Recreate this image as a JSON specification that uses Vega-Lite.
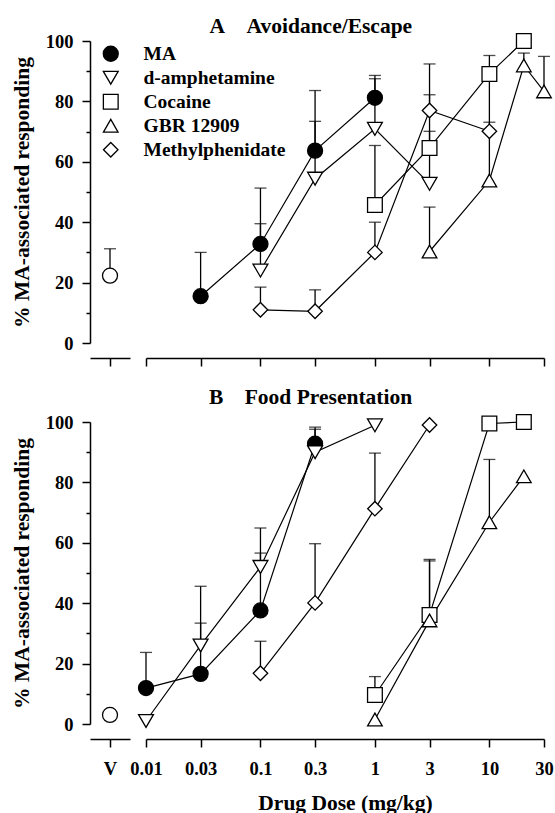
{
  "$schema": "https://vega.github.io/schema/vega-lite/v6.json",
  "background": "white",
  "padding": {"left": 11, "top": 15, "right": 5, "bottom": 0},
  "config": {
    "font": "Liberation Serif",
    "view": {"stroke": null},
    "axis": {
      "domainColor": "black", "domainWidth": 1.5, "tickColor": "black", "tickWidth": 1.5,
      "labelFont": "Liberation Serif", "labelFontWeight": "bold", "labelFontSize": 18.5, "labelColor": "black",
      "titleFont": "Liberation Serif", "titleFontWeight": "bold", "titleFontSize": 21.5, "titleColor": "black",
      "grid": false, "labelFlush": false
    },
    "title": {"font": "Liberation Serif", "fontWeight": "bold", "fontSize": 21.5, "color": "black"},
    "legend": {
      "labelFont": "Liberation Serif", "labelFontWeight": "bold", "labelFontSize": 19.5, "labelColor": "black",
      "symbolStrokeColor": "black", "symbolStrokeWidth": 1.3, "rowPadding": 3, "labelOffset": 23
    }
  },
  "datasets": {
    "veh": [
      {"panel": "A", "cond": "V", "pct": 22.3, "top": 31.2},
      {"panel": "B", "cond": "V", "pct": 3, "top": null}
    ],
    "pts": [
      {"panel": "A", "drug": "MA", "dose": 0.03, "pct": 15.5, "top": 30},
      {"panel": "A", "drug": "MA", "dose": 0.1, "pct": 32.8, "top": 51.3},
      {"panel": "A", "drug": "MA", "dose": 0.3, "pct": 63.7, "top": 83.6},
      {"panel": "A", "drug": "MA", "dose": 1, "pct": 81.2, "top": 88.6},
      {"panel": "A", "drug": "d-amphetamine", "dose": 0.1, "pct": 24, "top": 39.5},
      {"panel": "A", "drug": "d-amphetamine", "dose": 0.3, "pct": 54.4, "top": 73.4},
      {"panel": "A", "drug": "d-amphetamine", "dose": 1, "pct": 70.9, "top": 87.5},
      {"panel": "A", "drug": "d-amphetamine", "dose": 3, "pct": 52.7, "top": 82.2},
      {"panel": "A", "drug": "Cocaine", "dose": 1, "pct": 45.7, "top": 65.4},
      {"panel": "A", "drug": "Cocaine", "dose": 3, "pct": 64.6, "top": 70.1},
      {"panel": "A", "drug": "Cocaine", "dose": 10, "pct": 89.1, "top": 95.2},
      {"panel": "A", "drug": "Cocaine", "dose": 20, "pct": 100, "top": null},
      {"panel": "A", "drug": "GBR 12909", "dose": 3, "pct": 30.3, "top": 45},
      {"panel": "A", "drug": "GBR 12909", "dose": 10, "pct": 53.8, "top": 73.1},
      {"panel": "A", "drug": "GBR 12909", "dose": 20, "pct": 91.9, "top": 96},
      {"panel": "A", "drug": "GBR 12909", "dose": 30, "pct": 83.3, "top": 94.9},
      {"panel": "A", "drug": "Methylphenidate", "dose": 0.1, "pct": 11, "top": 18.5},
      {"panel": "A", "drug": "Methylphenidate", "dose": 0.3, "pct": 10.5, "top": 17.6},
      {"panel": "A", "drug": "Methylphenidate", "dose": 1, "pct": 30, "top": 40},
      {"panel": "A", "drug": "Methylphenidate", "dose": 3, "pct": 77, "top": 92.4},
      {"panel": "A", "drug": "Methylphenidate", "dose": 10, "pct": 70.1, "top": 89},
      {"panel": "B", "drug": "MA", "dose": 0.01, "pct": 11.9, "top": 23.7},
      {"panel": "B", "drug": "MA", "dose": 0.03, "pct": 16.6, "top": 33.4},
      {"panel": "B", "drug": "MA", "dose": 0.1, "pct": 37.6, "top": 56.6},
      {"panel": "B", "drug": "MA", "dose": 0.3, "pct": 92.8, "top": 98.3},
      {"panel": "B", "drug": "d-amphetamine", "dose": 0.01, "pct": 1, "top": null},
      {"panel": "B", "drug": "d-amphetamine", "dose": 0.03, "pct": 26, "top": 45.6},
      {"panel": "B", "drug": "d-amphetamine", "dose": 0.1, "pct": 52, "top": 64.9},
      {"panel": "B", "drug": "d-amphetamine", "dose": 0.3, "pct": 90, "top": 97.6},
      {"panel": "B", "drug": "d-amphetamine", "dose": 1, "pct": 98.9, "top": null},
      {"panel": "B", "drug": "Methylphenidate", "dose": 0.1, "pct": 16.8, "top": 27.4},
      {"panel": "B", "drug": "Methylphenidate", "dose": 0.3, "pct": 40.1, "top": 59.7},
      {"panel": "B", "drug": "Methylphenidate", "dose": 1, "pct": 71.3, "top": 89.7},
      {"panel": "B", "drug": "Methylphenidate", "dose": 3, "pct": 99, "top": null},
      {"panel": "B", "drug": "Cocaine", "dose": 1, "pct": 9.6, "top": 15.7},
      {"panel": "B", "drug": "Cocaine", "dose": 3, "pct": 36.1, "top": 54.5},
      {"panel": "B", "drug": "Cocaine", "dose": 10, "pct": 99.5, "top": null},
      {"panel": "B", "drug": "Cocaine", "dose": 20, "pct": 100, "top": null},
      {"panel": "B", "drug": "GBR 12909", "dose": 1, "pct": 1.5, "top": null},
      {"panel": "B", "drug": "GBR 12909", "dose": 3, "pct": 34.3, "top": 54},
      {"panel": "B", "drug": "GBR 12909", "dose": 10, "pct": 66.8, "top": 87.6},
      {"panel": "B", "drug": "GBR 12909", "dose": 20, "pct": 82, "top": null}
    ]
  },
  "spacing": 20,
  "vconcat": [
    {
      "title": {"text": "A\u2003Avoidance/Escape", "anchor": "middle", "dx": 28, "offset": -6},
      "bounds": "flush",
      "spacing": 16,
      "hconcat": [
        {
          "width": 40, "height": 302,
          "data": {"name": "veh"},
          "transform": [{"filter": "datum.panel === 'A'"}],
          "encoding": {
            "x": {"field": "cond", "type": "nominal", "scale": {"type": "point", "domain": ["V"], "padding": 0.5}, "axis": {"labels": false, "title": null, "offset": 15, "tickSize": 8}},
            "y": {"field": "pct", "type": "quantitative", "title": "% MA-associated responding", "scale": {"domain": [0, 100], "nice": false},
              "axis": {"values": [0, 10, 20, 30, 40, 50, 60, 70, 80, 90, 100], "labelExpr": "datum.value % 20 === 0 ? datum.label : ''",
                "tickSize": {"condition": {"test": "datum.value % 20 === 0", "value": 8}, "value": 4}, "labelPadding": 9, "titlePadding": 11.5}}
          },
          "layer": [
            {"transform": [{"filter": "datum.top != null"}], "mark": {"type": "rule", "color": "black", "strokeWidth": 1.3}, "encoding": {"y2": {"field": "top"}}},
            {"transform": [{"filter": "datum.top != null"}], "mark": {"type": "tick", "orient": "horizontal", "color": "black", "size": 12, "thickness": 1.3}, "encoding": {"y": {"field": "top", "type": "quantitative", "title": "% MA-associated responding"}}},
            {"mark": {"type": "point", "shape": "circle", "filled": true, "fill": "white", "stroke": "black", "strokeWidth": 1.3, "size": 225, "opacity": 1}}
          ]
        },
        {
          "width": 398, "height": 302,
          "data": {"name": "pts"},
          "transform": [{"filter": "datum.panel === 'A'"}],
          "encoding": {
            "x": {"field": "dose", "type": "quantitative", "scale": {"type": "log", "domain": [0.01, 30], "nice": false},
              "axis": {"values": [0.01, 0.03, 0.1, 0.3, 1, 3, 10, 30], "labels": false, "title": null, "offset": 15, "tickSize": 8}},
            "y": {"field": "pct", "type": "quantitative", "scale": {"domain": [0, 100], "nice": false}, "axis": null}
          },
          "layer": [
            {"mark": {"type": "line", "color": "black", "strokeWidth": 1.2}, "encoding": {"detail": {"field": "drug"}}},
            {"transform": [{"filter": "datum.top != null"}], "mark": {"type": "rule", "color": "black", "strokeWidth": 1.3}, "encoding": {"y2": {"field": "top"}}},
            {"transform": [{"filter": "datum.top != null"}], "mark": {"type": "tick", "orient": "horizontal", "color": "black", "size": 12, "thickness": 1.3}, "encoding": {"y": {"field": "top", "type": "quantitative", "axis": null}}},
            {
              "mark": {"type": "point", "filled": true, "strokeWidth": 1.3, "opacity": 1},
              "encoding": {
                "shape": {"field": "drug", "type": "nominal", "title": null,
                  "scale": {"domain": ["MA", "d-amphetamine", "Cocaine", "GBR 12909", "Methylphenidate"], "range": ["circle", "triangle-down", "square", "triangle-up", "diamond"]},
                  "legend": {"orient": "none", "legendX": 11, "legendY": 3}},
                "fill": {"field": "drug", "type": "nominal", "title": null,
                  "scale": {"domain": ["MA", "d-amphetamine", "Cocaine", "GBR 12909", "Methylphenidate"], "range": ["black", "white", "white", "white", "white"]},
                  "legend": {"orient": "none", "legendX": 11, "legendY": 3}},
                "stroke": {"field": "drug", "type": "nominal", "title": null,
                  "scale": {"domain": ["MA", "d-amphetamine", "Cocaine", "GBR 12909", "Methylphenidate"], "range": ["black", "black", "black", "black", "black"]},
                  "legend": {"orient": "none", "legendX": 11, "legendY": 3}},
                "size": {"field": "drug", "type": "nominal", "title": null,
                  "scale": {"domain": ["MA", "d-amphetamine", "Cocaine", "GBR 12909", "Methylphenidate"], "range": [225, 210, 160, 210, 256]},
                  "legend": {"orient": "none", "legendX": 11, "legendY": 3}}
              }
            }
          ]
        }
      ]
    },
    {
      "title": {"text": "B\u2003Food Presentation", "anchor": "middle", "dx": 28, "offset": 3.5},
      "bounds": "flush",
      "spacing": 16,
      "hconcat": [
        {
          "width": 40, "height": 302,
          "data": {"name": "veh"},
          "transform": [{"filter": "datum.panel === 'B'"}],
          "encoding": {
            "x": {"field": "cond", "type": "nominal", "scale": {"type": "point", "domain": ["V"], "padding": 0.5}, "axis": {"labelAngle": 0, "title": null, "offset": 15, "tickSize": 8, "labelPadding": 12.5}},
            "y": {"field": "pct", "type": "quantitative", "title": "% MA-associated responding", "scale": {"domain": [0, 100], "nice": false},
              "axis": {"values": [0, 10, 20, 30, 40, 50, 60, 70, 80, 90, 100], "labelExpr": "datum.value % 20 === 0 ? datum.label : ''",
                "tickSize": {"condition": {"test": "datum.value % 20 === 0", "value": 8}, "value": 4}, "labelPadding": 9, "titlePadding": 11.5}}
          },
          "layer": [
            {"mark": {"type": "point", "shape": "circle", "filled": true, "fill": "white", "stroke": "black", "strokeWidth": 1.3, "size": 225, "opacity": 1}}
          ]
        },
        {
          "width": 398, "height": 302,
          "data": {"name": "pts"},
          "transform": [{"filter": "datum.panel === 'B'"}],
          "encoding": {
            "x": {"field": "dose", "type": "quantitative", "scale": {"type": "log", "domain": [0.01, 30], "nice": false},
              "axis": {"values": [0.01, 0.03, 0.1, 0.3, 1, 3, 10, 30], "format": "~g", "title": "Drug Dose (mg/kg)", "offset": 15, "tickSize": 8, "labelPadding": 12.5, "titlePadding": 14}},
            "y": {"field": "pct", "type": "quantitative", "scale": {"domain": [0, 100], "nice": false}, "axis": null}
          },
          "layer": [
            {"mark": {"type": "line", "color": "black", "strokeWidth": 1.2}, "encoding": {"detail": {"field": "drug"}}},
            {"transform": [{"filter": "datum.top != null"}], "mark": {"type": "rule", "color": "black", "strokeWidth": 1.3}, "encoding": {"y2": {"field": "top"}}},
            {"transform": [{"filter": "datum.top != null"}], "mark": {"type": "tick", "orient": "horizontal", "color": "black", "size": 12, "thickness": 1.3}, "encoding": {"y": {"field": "top", "type": "quantitative", "axis": null}}},
            {
              "mark": {"type": "point", "filled": true, "strokeWidth": 1.3, "opacity": 1},
              "encoding": {
                "shape": {"field": "drug", "type": "nominal", "title": null,
                  "scale": {"domain": ["MA", "d-amphetamine", "Cocaine", "GBR 12909", "Methylphenidate"], "range": ["circle", "triangle-down", "square", "triangle-up", "diamond"]},
                  "legend": {"orient": "none", "legendX": 11, "legendY": 3}},
                "fill": {"field": "drug", "type": "nominal", "title": null,
                  "scale": {"domain": ["MA", "d-amphetamine", "Cocaine", "GBR 12909", "Methylphenidate"], "range": ["black", "white", "white", "white", "white"]},
                  "legend": {"orient": "none", "legendX": 11, "legendY": 3}},
                "stroke": {"field": "drug", "type": "nominal", "title": null,
                  "scale": {"domain": ["MA", "d-amphetamine", "Cocaine", "GBR 12909", "Methylphenidate"], "range": ["black", "black", "black", "black", "black"]},
                  "legend": {"orient": "none", "legendX": 11, "legendY": 3}},
                "size": {"field": "drug", "type": "nominal", "title": null,
                  "scale": {"domain": ["MA", "d-amphetamine", "Cocaine", "GBR 12909", "Methylphenidate"], "range": [225, 210, 160, 210, 256]},
                  "legend": {"orient": "none", "legendX": 11, "legendY": 3}}
              }
            }
          ]
        }
      ]
    }
  ]
}
